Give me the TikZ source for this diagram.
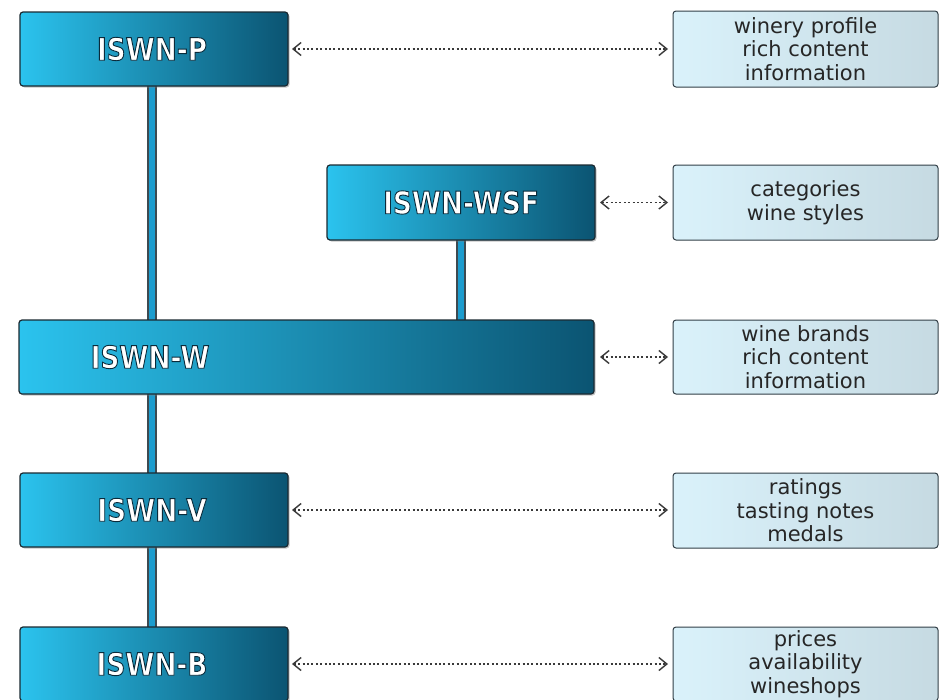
\documentclass[tikz,border=0pt]{standalone}
\usepackage{fontspec}
\usetikzlibrary{arrows.meta,shadows,backgrounds}
\newfontfamily\hdfont{DejaVu Sans}[FakeStretch=0.85]
\newfontfamily\infofont{DejaVu Sans}
\definecolor{bluel}{HTML}{2BC3EE}
\definecolor{blued}{HTML}{0B5472}
\definecolor{edge}{HTML}{1B2A32}
\definecolor{infol}{HTML}{DAF2FB}
\definecolor{infod}{HTML}{C6DAE2}
\definecolor{conn}{HTML}{1C9CCE}
\definecolor{arr}{HTML}{3A3A3A}
\newcommand\glowtxt[1]{\leavevmode\special{pdf:literal direct 2 Tr 0.9 w 0.04 0.17 0.23 RG 1 1 1 rg}#1\special{pdf:literal direct 0 Tr}}
\tikzset{
  bluebox/.style={rectangle, rounded corners=3pt, draw=edge, line width=1.2pt,
    left color=bluel, right color=blued, inner sep=0pt, outer sep=0pt,
    drop shadow={shadow xshift=1.5pt, shadow yshift=-1.5pt, opacity=0.45}},
  bluetext/.style={font=\hdfont\bfseries\fontsize{31}{34}\selectfont, inner sep=0pt, text=white},
  infobox/.style={rectangle, rounded corners=3pt, draw=edge!90, line width=1pt,
    left color=infol, right color=infod, inner sep=0pt, outer sep=0pt,
    minimum width=265pt, align=center, text=black!85,
    font=\infofont\fontsize{21}{23.5}\selectfont},
  dotarrow/.style={draw=arr, line width=1.3pt, dash pattern=on 2pt off 2.4pt,
    {Straight Barb[length=8pt,width=13pt,line width=1.4pt]}-{Straight Barb[length=8pt,width=13pt,line width=1.4pt]}},
  vconn/.style={draw=edge!85, line width=2pt, double=conn, double distance=6pt}
}
\begin{document}
\begin{tikzpicture}[x=1pt,y=-1pt]
\useasboundingbox (0,0) rectangle (940,699);
\clip (0,0) rectangle (940,699);
% blue boxes
\node[bluebox, minimum width=268pt, minimum height=74pt] (P) at (154,49) {};
\node[bluebox, minimum width=268pt, minimum height=75pt] (WSF) at (461,202.5) {};
\node[bluebox, minimum width=575pt, minimum height=74pt] (W) at (306.5,357) {};
\node[bluebox, minimum width=268pt, minimum height=74pt] (V) at (154,510) {};
\node[bluebox, minimum width=268pt, minimum height=74pt] (B) at (154,664) {};
% box labels
\node[bluetext] (Pt) at (152,49) {\glowtxt{ISWN-P}};
\node[bluetext] (WSFt) at (WSF) {\glowtxt{ISWN-WSF}};
\node[bluetext] (Wt) at (150,357) {\glowtxt{ISWN-W}};
\node[bluetext] (Vt) at (152,510) {\glowtxt{ISWN-V}};
\node[bluetext] (Bt) at (152,664) {\glowtxt{ISWN-B}};
% info boxes
\node[infobox, minimum height=76pt] (RP) at (805.5,49) {winery profile\\rich content\\information};
\node[infobox, minimum height=75pt] (RWSF) at (805.5,202.5) {categories\\wine styles};
\node[infobox, minimum height=74pt] (RW) at (805.5,357) {wine brands\\rich content\\information};
\node[infobox, minimum height=75pt] (RV) at (805.5,510.5) {ratings\\tasting notes\\medals};
\node[infobox, minimum height=74pt] (RB) at (805.5,664) {prices\\availability\\wineshops};
% vertical connectors
\begin{scope}[on background layer]
\fill[white] (0,0) rectangle (940,699);
\draw[vconn] ([xshift=-2pt]P.south) -- ([xshift=-2pt]P.south |- W.north);
\draw[vconn] (WSF.south) -- (WSF.south |- W.north);
\draw[vconn] ([xshift=-2pt]V.north |- W.south) -- ([xshift=-2pt]V.north);
\draw[vconn] ([xshift=-2pt]V.south) -- ([xshift=-2pt]B.north);
\end{scope}
% dotted arrows
\draw[dotarrow, shorten <=4pt, shorten >=5pt] (P.east) -- (RP.west);
\draw[dotarrow, shorten <=5pt, shorten >=5pt] (WSF.east) -- (RWSF.west);
\draw[dotarrow, shorten <=6pt, shorten >=5pt] (W.east) -- (RW.west);
\draw[dotarrow, shorten <=4pt, shorten >=5pt] (V.east) -- (V.east -| RV.west);
\draw[dotarrow, shorten <=4pt, shorten >=5pt] (B.east) -- (RB.west);
\end{tikzpicture}
\end{document}
